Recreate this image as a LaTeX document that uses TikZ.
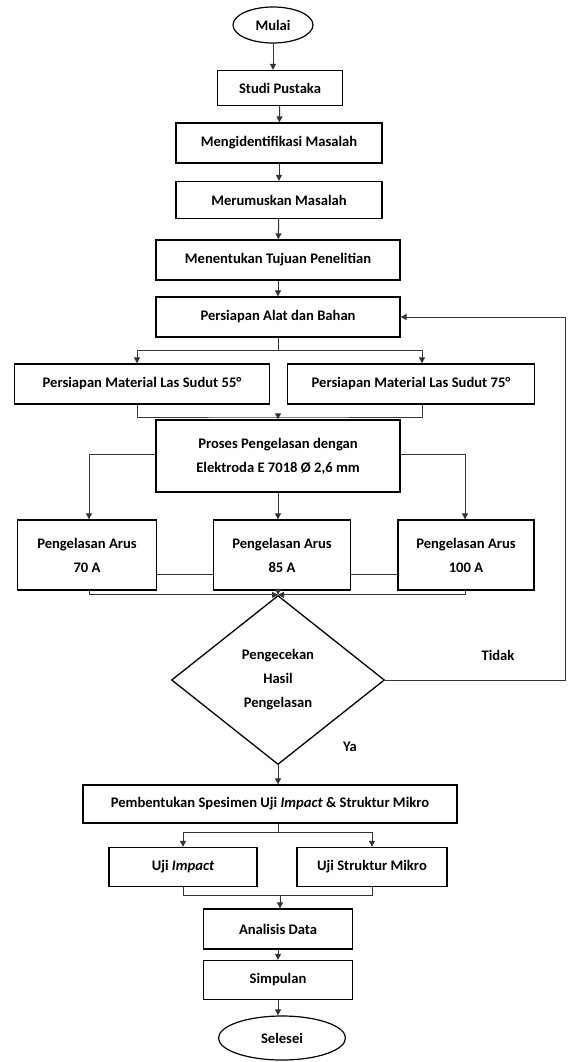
\documentclass[tikz,border=0pt]{standalone}
\usepackage{fontspec}
\setmainfont{Carlito}
\usepackage{tikz}
\usetikzlibrary{shapes.geometric,arrows.meta}

\begin{document}
\begin{tikzpicture}[x=1pt,y=-1pt,
  font=\fontsize{14.6}{24}\selectfont\bfseries,
  box/.style={draw,line width=1.3pt,align=center,inner sep=0pt},
  oval/.style={draw,ellipse,line width=1.2pt,inner sep=0pt},
  line/.style={line width=1pt,black!80},
  arr/.style={line,-{Triangle[length=6pt,width=6pt]}}]
\useasboundingbox (0,0) rectangle (568,1062);
\node[oval,minimum width=80pt,minimum height=36pt](mulai) at (273,25){Mulai};
\node[box,minimum width=125pt,minimum height=35pt](studi) at (280,88){Studi Pustaka};
\node[box,minimum width=206pt,minimum height=40pt](identifikasi) at (279,143){Mengidentifikasi Masalah};
\node[box,minimum width=206pt,minimum height=37pt](rumus) at (279,200){Merumuskan Masalah};
\node[box,minimum width=244pt,minimum height=40pt](tujuan) at (278,260){Menentukan Tujuan Penelitian};
\node[box,minimum width=244pt,minimum height=40pt](alat) at (278,317){Persiapan Alat dan Bahan};
\node[box,minimum width=255pt,minimum height=40pt](mat55) at (142,384){Persiapan Material Las Sudut 55°};
\node[box,minimum width=247pt,minimum height=40pt](mat75) at (411,384){Persiapan Material Las Sudut 75°};
\node[box,minimum width=244pt,minimum height=72pt](proses) at (278,456){Proses Pengelasan dengan\\Elektroda E 7018 Ø 2,6 mm};
\node[box,minimum width=139pt,minimum height=70pt](arus70) at (87,555){Pengelasan Arus\\70 A};
\node[box,minimum width=137pt,minimum height=70pt](arus85) at (282,555){Pengelasan Arus\\85 A};
\node[box,minimum width=136pt,minimum height=70pt](arus100) at (466,555){Pengelasan Arus\\100 A};
\node[draw,diamond,line width=1.3pt,aspect=1.26,minimum width=213pt,minimum height=169pt,inner sep=0pt,align=center](cek) at (278,680){Pengecekan\\Hasil\\Pengelasan};
\node(tidak) at (498,655){Tidak};
\node(ya) at (350,747){Ya};
\node[box,minimum width=374pt,minimum height=38pt](bentuk) at (270,804){Pembentukan Spesimen Uji \textit{Impact} \& Struktur Mikro};
\node[box,minimum width=148pt,minimum height=39pt](impact) at (183,867){Uji \textit{Impact}};
\node[box,minimum width=150pt,minimum height=39pt](mikro) at (372,867){Uji Struktur Mikro};
\node[box,minimum width=149pt,minimum height=40pt](analisis) at (278,929){Analisis Data};
\node[box,minimum width=149pt,minimum height=39pt](simpulan) at (278,980){Simpulan};
\node[oval,minimum width=127pt,minimum height=44pt](selesai) at (282,1038){Selesei};

\draw[arr](mulai.south)--(mulai.south|-studi.north);
\draw[arr](studi)--(identifikasi);
\draw[arr](identifikasi)--(rumus);
\draw[arr](rumus)--(tujuan);
\draw[arr](tujuan)--(alat);
\draw[line](alat.south)--++(0,13)coordinate(ja);
\draw[arr](ja)-|([xshift=-5pt]mat55.north);
\draw[arr](ja)-|([xshift=11pt]mat75.north);
\coordinate(jb) at (278,417);
\draw[line]([xshift=-5pt]mat55.south)|-(jb)-|([xshift=11pt]mat75.south);
\draw[arr](jb)--(proses.north);
\draw[arr]([yshift=2pt]proses.west)-|([xshift=2pt]arus70.north);
\draw[arr]([yshift=2pt]proses.east)-|([xshift=-1pt]arus100.north);
\draw[arr](proses.south)--(proses.south|-arus85.north);
\draw[line]([yshift=-19pt]arus70.east)--([yshift=-19pt]arus85.west);
\draw[line]([yshift=-19pt]arus85.east)--([yshift=-19pt]arus100.west);
\draw[arr]([xshift=2pt]arus70.south)|-(cek.north);
\draw[arr]([xshift=-1pt]arus100.south)|-(cek.north);
\draw[arr](arus85.south-|cek.north)--(cek.north);
\draw[arr](cek.east)--++(180,0)|-(alat.east);
\draw[arr](cek.south)--(cek.south|-bentuk.north);
\draw[line](cek.south|-bentuk.south)--++(0,9)coordinate(jc);
\draw[arr](jc)-|(impact.north);
\draw[arr](jc)-|(mikro.north);
\coordinate(jd) at (280,895);
\draw[line](impact.south)|-(jd)-|(mikro.south);
\draw[arr](jd)--(jd|-analisis.north);
\draw[arr](analisis)--(simpulan);
\draw[arr](simpulan.south)--(simpulan.south|-selesai.north);
\end{tikzpicture}
\end{document}
